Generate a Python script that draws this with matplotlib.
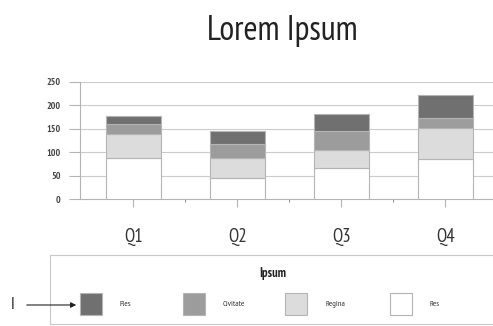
import matplotlib
matplotlib.use("Agg")
import matplotlib.pyplot as plt
from matplotlib.patches import Rectangle
import numpy as np

# Données
categories = ["Q1", "Q2", "Q3", "Q4"]
series_names = ["Fles", "Civitate", "Regina", "Res"]
res = [88, 45, 66, 85]
regina = [51, 42, 39, 66]
civitate = [22, 30, 40, 22]
fles = [17, 28, 36, 49]
y_ticks = [0, 50, 100, 150, 200, 250]

colors = {"Res": "#ffffff", "Regina": "#dcdcdc", "Civitate": "#9c9c9c", "Fles": "#707070"}
edge = "#b4b4b4"
narrow = ["PT Sans Narrow", "DejaVu Sans"]

W, H = 493, 326
fig = plt.figure(figsize=(W / 100, H / 100), dpi=100)

# Axe principal (positions en pixels converties)
ax = fig.add_axes([80 / W, 1 - 199.3 / H, 413 / W, 117.6 / H])
x = np.arange(len(categories))
bottom = np.zeros(len(categories))
for name, vals in [("Res", res), ("Regina", regina), ("Civitate", civitate), ("Fles", fles)]:
    ax.bar(x, vals, width=0.53, bottom=bottom, color=colors[name],
           edgecolor=edge, linewidth=0.8, zorder=3)
    bottom += np.array(vals)

ax.set_xlim(-0.51, 3.457)
ax.set_ylim(0, 250)
ax.set_yticks(y_ticks)
ax.set_yticklabels([str(v) for v in y_ticks], fontsize=7, color="#444444",
                   family=narrow, fontweight="bold")
ax.set_xticks(x)
ax.set_xticklabels(categories, fontsize=13.5, color="#333333", family=narrow)
ax.set_xticks([0.5, 1.5, 2.5], minor=True)
ax.tick_params(axis="y", length=8, color="#b4b4b4", pad=6)
ax.tick_params(axis="x", which="major", length=6, color="#b4b4b4", pad=15)
ax.tick_params(axis="x", which="minor", length=2, color="#777777")
ax.yaxis.grid(True, color="#cccccc", linewidth=0.8, zorder=0)
ax.set_axisbelow(True)
for s in ["top", "right"]:
    ax.spines[s].set_visible(False)
ax.spines["left"].set_color("#b4b4b4")
ax.spines["bottom"].set_color("#b4b4b4")

# Titre
fig.text(282.5 / W, 1 - 40 / H, "Lorem Ipsum", ha="center", va="baseline",
         fontsize=24.5, family=narrow, color="#222222")

# Légende dessinée en coordonnées pixels
lg = fig.add_axes([0, 0, 1, 1])
lg.set_xlim(0, W)
lg.set_ylim(H, 0)
lg.axis("off")
lg.add_patch(Rectangle((50, 255), 460, 69, facecolor="none", edgecolor="#c8c8c8", linewidth=0.8))
lg.text(273, 273, "Ipsum", ha="center", va="center", fontsize=9, fontweight="bold",
        family=narrow, color="#222222")
patch_x = [80, 183, 285, 390]
for px, name in zip(patch_x, series_names):
    lg.add_patch(Rectangle((px, 293), 22, 22, facecolor=colors[name], edgecolor=edge, linewidth=0.8))
    lg.text(px + 40, 304, name, ha="left", va="center", fontsize=6,
            family=narrow, color="#333333")

lg.annotate("", xy=(79, 305), xytext=(24, 305),
            arrowprops=dict(arrowstyle="-|>", color="#222222", lw=0.8, mutation_scale=8))
lg.text(13, 305, "I", ha="center", va="center", fontsize=12, family=narrow, color="#222222")

fig.savefig("out.png", dpi=100)
